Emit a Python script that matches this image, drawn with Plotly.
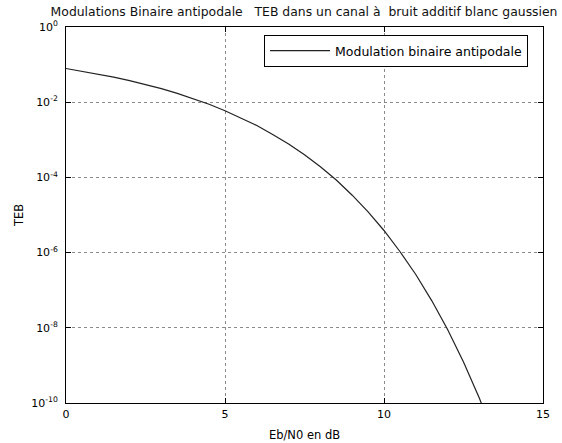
import plotly.graph_objects as go

ebn0_db = [0, 0.5, 1, 1.5, 2, 2.5, 3, 3.5, 4, 4.5, 5, 5.5, 6, 6.5, 7, 7.5, 8, 8.5, 9, 9.5, 10, 10.5, 11, 11.5, 12, 12.5, 13, 13.5, 14]
teb = [7.87e-2, 6.71e-2, 5.63e-2, 4.65e-2, 3.75e-2, 2.97e-2, 2.29e-2, 1.72e-2, 1.25e-2, 8.8e-3,
       5.95e-3, 3.8e-3, 2.39e-3, 1.39e-3, 7.73e-4, 4.0e-4, 1.91e-4, 8.5e-5, 3.36e-5, 1.21e-5,
       3.87e-6, 1.07e-6, 2.61e-7, 5.3e-8, 9.0e-9, 1.23e-9, 1.33e-10, 1.1e-11, 8e-13]
x_ticks = [0, 5, 10, 15]
y_tickvals = [1, 1e-2, 1e-4, 1e-6, 1e-8, 1e-10]
y_ticktext = ["10<sup>0</sup>", "10<sup>-2</sup>", "10<sup>-4</sup>", "10<sup>-6</sup>", "10<sup>-8</sup>", "10<sup>-10</sup>"]

FONT = "DejaVu Sans, Liberation Sans, Arial, sans-serif"

fig = go.Figure()
fig.add_trace(go.Scatter(x=ebn0_db, y=teb, mode="lines", name="Modulation binaire antipodale",
                         line=dict(color="#222222", width=1.2)))

fig.update_layout(
    width=562, height=443,
    margin=dict(l=66, r=19, t=27, b=40),
    paper_bgcolor="white", plot_bgcolor="white",
    font=dict(family=FONT, size=11, color="black"),
    title=dict(text="Modulations Binaire antipodale   TEB dans un canal à  bruit additif blanc gaussien",
               x=0.541, xref="container", xanchor="center", y=0.973, yref="container", yanchor="middle",
               font=dict(family=FONT, size=12.4, color="#111111")),
    showlegend=True,
    legend=dict(x=0.9686, xanchor="right", y=0.9787, yanchor="top", bgcolor="white",
                bordercolor="black", borderwidth=1, font=dict(family=FONT, size=12.5),
                itemwidth=60),
)
fig.update_xaxes(range=[0, 15], tickvals=x_ticks, showline=True, linecolor="black", linewidth=1,
                 mirror="allticks", ticks="inside", ticklen=5, tickcolor="black",
                 tickfont=dict(family=FONT, size=11), ticklabelstandoff=1, automargin=False,
                 showgrid=True, gridcolor="#8a8a8a", griddash="dot", gridwidth=1, zeroline=False,
                 title=dict(text="Eb/N0 en dB", standoff=10, font=dict(family=FONT, size=11.5)))
fig.update_yaxes(type="log", range=[-10, 0], tickvals=y_tickvals, ticktext=y_ticktext,
                 showline=True, linecolor="black", linewidth=1,
                 mirror="allticks", ticks="inside", ticklen=5, tickcolor="black",
                 tickfont=dict(family=FONT, size=11), ticklabelstandoff=5, automargin=False,
                 showgrid=True, gridcolor="#8a8a8a", griddash="dot", gridwidth=1, zeroline=False,
                 title=dict(text="TEB", standoff=5, font=dict(family=FONT, size=11.5)))
fig.write_html("out.html")
